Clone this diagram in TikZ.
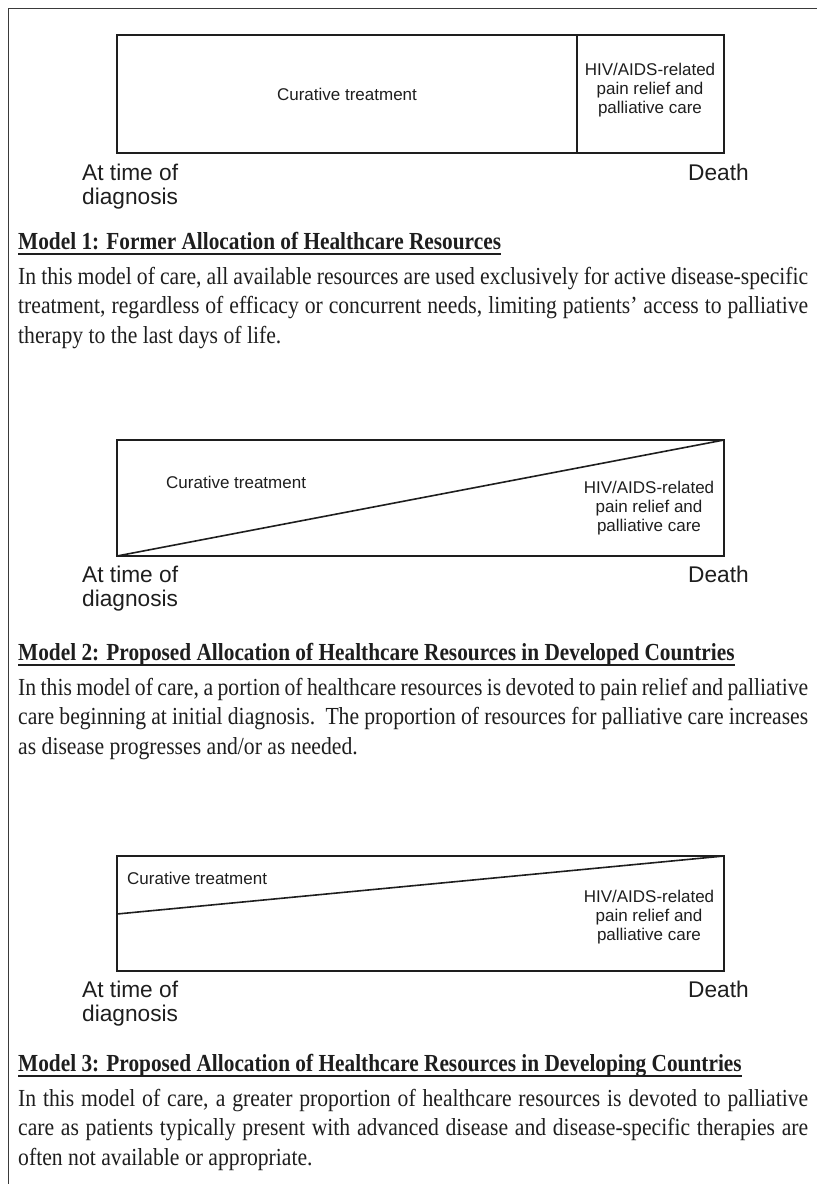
\documentclass[tikz,border=0pt]{standalone}
\usepackage{fontspec}
\setmainfont{Liberation Serif}
\newfontfamily\labf{Liberation Sans}
\newfontfamily\bodyf[FakeStretch=0.885]{Liberation Serif}
\newfontfamily\headf[FakeStretch=0.87]{Liberation Serif}
\definecolor{ink}{HTML}{1E1E1E}
\definecolor{framec}{HTML}{3A3A3A}
\tikzset{
  boxline/.style={draw=ink, line width=1.6pt},
  frameline/.style={draw=framec, line width=1pt},
  lbl/.style={font=\labf\fontsize{22.7}{24.5}\selectfont, inner sep=0pt, text=ink},
  intext/.style={font=\labf\fontsize{17}{19}\selectfont, inner sep=0pt, align=center, text=ink},
  headtext/.style={font=\headf\bfseries\fontsize{24.5}{29}\selectfont, inner sep=0pt, anchor=base west, text=ink},
  bodytext/.style={font=\bodyf\fontsize{24.5}{29.5}\selectfont, inner sep=0pt, anchor=base west, text=ink},
  uline/.style={draw=ink, line width=1.3pt},
}
\newcommand{\jline}[1]{\makebox[790pt][s]{#1}}
\begin{document}
\begin{tikzpicture}[x=1pt,y=-1pt]
\useasboundingbox (0,0) rectangle (817,1184);
% outer frame
\coordinate (fbl) at (8,1184);
\coordinate (ftl) at (8,8);
\coordinate (ftr) at (817,8);
\draw[frameline] (fbl) -- (ftl) -- (ftr);

% ---------- Model 1 ----------
\coordinate (b1nw) at (117,35);
\coordinate (b1se) at (724,153);
\draw[boxline] (b1nw) rectangle (b1se);
\coordinate (b1dt) at (577,35);
\coordinate (b1db) at (577,153);
\draw[boxline] (b1dt) -- (b1db);
\node[intext] (cur1) at (347,94) {Curative treatment};
\node[intext] (hiv1) at (650,90) {HIV/AIDS-related\\pain relief and\\palliative care};
\node[lbl, anchor=base west] (at1) at (82,180) {At time of};
\node[lbl, anchor=base west] (dg1) at (82,204.5) {diagnosis};
\node[lbl, anchor=base east] (de1) at (749,180) {Death};
\node[headtext] (h1) at (18,249) {Model 1: Former Allocation of Healthcare Resources};
\draw[uline] ([yshift=-5pt]h1.base west) -- ([yshift=-5pt]h1.base east);
\node[bodytext] (p1a) at (18,284) {\jline{In this model of care, all available resources are used exclusively for active disease-specific}};
\node[bodytext] (p1b) at (18,313.5) {\jline{treatment, regardless of efficacy or concurrent needs, limiting patients’ access to palliative}};
\node[bodytext] (p1c) at (18,343) {therapy to the last days of life.};

% ---------- Model 2 ----------
\coordinate (b2nw) at (117,440);
\coordinate (b2se) at (724,556);
\draw[boxline] (b2nw) rectangle (b2se);
\coordinate (b2bl) at (117,556);
\coordinate (b2tr) at (724,440);
\draw[boxline] (b2bl) -- (b2tr);
\node[intext, anchor=west] (cur2) at (166,482) {Curative treatment};
\node[intext] (hiv2) at (649,508) {HIV/AIDS-related\\pain relief and\\palliative care};
\node[lbl, anchor=base west] (at2) at (82,582) {At time of};
\node[lbl, anchor=base west] (dg2) at (82,606.5) {diagnosis};
\node[lbl, anchor=base east] (de2) at (749,582) {Death};
\node[headtext] (h2) at (18,660) {Model 2: Proposed Allocation of Healthcare Resources in Developed Countries};
\draw[uline] ([yshift=-5pt]h2.base west) -- ([yshift=-5pt]h2.base east);
\node[bodytext] (p2a) at (18,695) {\jline{In this model of care, a portion of healthcare resources is devoted to pain relief and palliative}};
\node[bodytext] (p2b) at (18,724.5) {\jline{care beginning at initial diagnosis.\ \ The proportion of resources for palliative care increases}};
\node[bodytext] (p2c) at (18,754) {as disease progresses and/or as needed.};

% ---------- Model 3 ----------
\coordinate (b3nw) at (117,856);
\coordinate (b3se) at (724,971);
\draw[boxline] (b3nw) rectangle (b3se);
\coordinate (b3ml) at (117,914);
\coordinate (b3tr) at (724,856);
\draw[boxline] (b3ml) -- (b3tr);
\node[intext, anchor=west] (cur3) at (127,878) {Curative treatment};
\node[intext] (hiv3) at (649,917) {HIV/AIDS-related\\pain relief and\\palliative care};
\node[lbl, anchor=base west] (at3) at (82,997) {At time of};
\node[lbl, anchor=base west] (dg3) at (82,1021.5) {diagnosis};
\node[lbl, anchor=base east] (de3) at (749,997) {Death};
\node[headtext] (h3) at (18,1071) {Model 3: Proposed Allocation of Healthcare Resources in Developing Countries};
\draw[uline] ([yshift=-5pt]h3.base west) -- ([yshift=-5pt]h3.base east);
\node[bodytext] (p3a) at (18,1106) {\jline{In this model of care, a greater proportion of healthcare resources is devoted to palliative}};
\node[bodytext] (p3b) at (18,1135.5) {\jline{care as patients typically present with advanced disease and disease-specific therapies are}};
\node[bodytext] (p3c) at (18,1165) {often not available or appropriate.};
\end{tikzpicture}
\end{document}
